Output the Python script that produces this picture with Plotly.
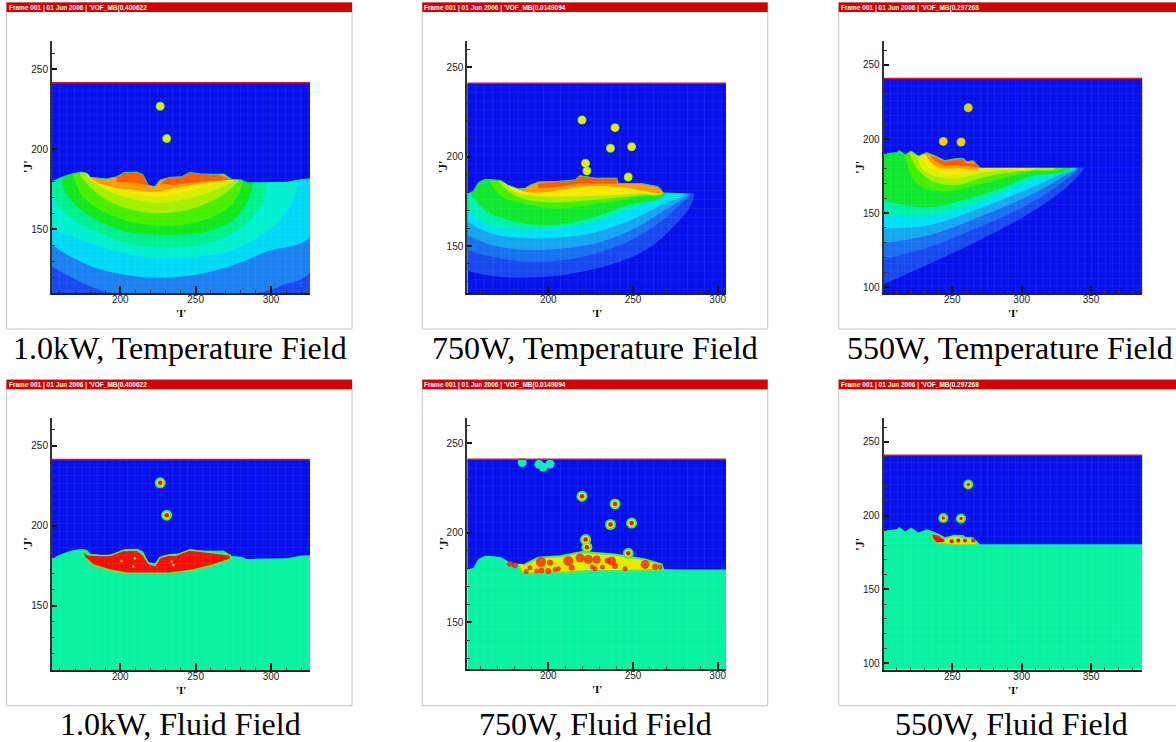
import plotly.graph_objects as go

W, H = 1176, 742
FRAME_TITLES = ["Frame 001 | 01 Jun 2006 | 'VOF_MB(0.400622", "Frame 001 | 01 Jun 2006 | 'VOF_MB(0.0149094", "Frame 001 | 01 Jun 2006 | 'VOF_MB(0.297268"]
CAPTIONS = ["1.0kW, Temperature Field", "750W, Temperature Field", "550W, Temperature Field",
            "1.0kW, Fluid Field", "750W, Fluid Field", "550W, Fluid Field"]

# ---------- interface profiles (I, J) ----------
S1_X = [154.7,162.2,167.7,174.3,178,180.3,191,197.6,203,211.3,215.3,218.6,223,226.3,233,240.7,246.2,253,264,268.8,274,280.5,283.8,297,310.4,320.4,326]
S1_Y = [179.6,182.7,184.4,185.6,184.8,182.3,181.3,182.7,185.4,185.6,183.8,177.3,176.5,180.6,182.3,182.7,185.4,184.4,184.2,184.4,181,180.6,179.2,179.4,179.6,181.3,181.5]
S2_X = [152.2,155.7,158.7,162.7,167.6,172,176.4,182.3,186.2,189.2,194,205.9,215.7,218.7,227.6,240.4,241.3,255,264.9,268,280.7,305]
S2_Y = [179.5,180.4,185.4,187.3,187,186.6,184,182,182.3,184,185.8,186.2,187,189.4,188,188,185,185,183.2,179.9,179.5,179.5]
S3_X = [200.5,209.9,211.8,215.9,220.2,225.5,231.5,236.3,244.7,253.1,257.9,260.3,265.1,270,306,387]
S3_Y = [189.9,190.8,192.3,189.2,191.9,188.5,190.8,189.2,185.4,186.9,186.9,184.7,185.4,180.6,180.6,180.6]

# ---------- temperature bands: lower edge of each contour level ----------
LEVEL_COLORS_1 = ["#1c80f2","#00d8f8","#00f0d0","#00f090","#10e820","#44f000","#a4f000","#d8f000","#ffe800","#ff9c00"]
T1_X = [[154.7,169,182,195.4,290.5,308,326],
        [154.7,169,186.5,208.6,228.5,253,275,297,326],
        [318,314.8,306,290.5,270.6,246,228.5,208.6,186.5,169,154.7],
        [297,295,286,270.6,253,228.5,208.6,186.5,169,157.7,155],
        [288,285,275,257,228.5,204,184.3,169,162,161.7],
        [281.6,275,261.7,244,228.5,208.6,191,175.4,169],
        [278.3,266,248.5,228.5,208.6,191,178.8,173.2],
        [275,257.3,239.6,228.5,213,195.4,182,176.5],
        [274,255,237.4,226.3,208.6,193,180],
        [274,253,235,224,208.6,193,180.3]]
T1_Y = [[126.5,119,113.5,110,110,115,123.3],
        [140,131.7,124.8,120.6,119.6,121.9,127.5,135.8,145.6],
        [180.6,168,155.6,144,135.8,132.3,131.7,133.7,139,145.2,151.5],
        [178.5,168,155.6,145.2,140,138.5,140,147.3,155.6,166,176.5],
        [179,168,155.6,148.3,146.3,148.3,155.6,166,176.5,182.7],
        [179.6,166,157.7,153,152,154,159.8,170,183.7],
        [179.6,170.2,163,159.8,161.9,168,177.5,184.8],
        [179.6,172.3,168,166.5,167.7,172.3,179.6,185],
        [180.6,176.5,172.3,170.2,172.3,175.4,181.7],
        [181,178.5,175.4,173.3,174.4,176.5,182.3]]
HOT1A_X = [197.6,203,211.3,217.5,218.6,208.6,197.6]
HOT1A_Y = [182.7,185.4,185.6,182.7,177.3,179,179.6]
HOT1B_X = [226.3,233,246.2,264,274,252.9,235]
HOT1B_Y = [178.5,182.3,185.4,184,181,179.6,177.5]

LEVEL_COLORS_2 = ["#1a48f0","#1a70f0","#18a4f0","#00e0f8","#00f0b0","#10e830","#44f000","#a4f000","#ffe800","#ff9c00"]
T2_X = [[152.2,166.5,182.3,203.9,219.7,239.4,259.1,274.8,283.7,286.2],
        [152.2,166.5,188.2,209.8,231.5,251.2,268.9,278.7,284.3],
        [152.2,166.5,188.2,209.8,231.5,251.2,268.9,278.7,282.7],
        [152.2,166.5,188.2,209.8,231.5,251.2,268.9,280.7],
        [152.2,160.6,180.3,203.9,227.6,249.2,267.9,277.8],
        [154.3,162.6,180.3,203.9,227.6,247.2,268.9],
        [165.6,172.4,184.3,203.9,231.5,255.1,267.9],
        [170.5,178.3,188.2,203.9,231.5,255.1,267.9],
        [172.8,180.3,189.2,203.9,231.5,255.1,267.9],
        [182.7,189.2,205.9,219.7,241.3,255.1,267.9]]
T2_Y = [[136.2,133.2,132.3,133.2,135.6,140.3,148.7,161.8,172,179.1],
        [147.8,144,141.2,142.2,146.8,154.3,165.5,173.9,179.1],
        [156.2,150.6,147.8,148.7,152.4,159.9,170.1,175.7,179.1],
        [163.6,157,154.3,154.9,158.6,165.5,173.9,179.1],
        [171,163.6,159,159.9,163.6,171,177.6,179.1],
        [179.1,170.1,163.6,161.8,166.4,172.9,178.5],
        [186,177.6,173.9,171,173.9,177.6,179.5],
        [186,179.5,175.7,174.4,176.1,178.5,179.9],
        [186,180.4,178.5,177.6,178.2,179.5,179.9],
        [181.3,179.9,181,183.2,183.2,181,179.9]]
HOT2_X = [194,205.9,218.7,240.4,240.4,219.7,205.9,194]
HOT2_Y = [185,186,188.8,187.9,184.7,185.1,183.2,182.3]

LEVEL_COLORS_3 = ["#1a48f0","#1a70f0","#18a8f0","#00e0f8","#00f0b0","#10e830","#44f000","#a4f000","#d8f000","#ffe800","#ff9c00"]
T3_X = [[200.5,233.9,270,306,330,342,345],
        [200.5,233.9,270,306,330,340.9],
        [200.5,233.9,270,306,330,340.1],
        [200.5,233.9,270,306,330,339.2],
        [200.5,233.9,270,306,337.3],
        [200.5,209.9,233.9,257.9,282,306,336.1],
        [215.9,224.3,243.5,262.7,282,306,330],
        [219.5,225.5,236.3,253.1,270,286.8,306,325.2],
        [223.8,229.1,238.7,253.1,270,286.8,310.8],
        [227.2,232.7,241.1,253.1,270,284.4,303.6],
        [230.3,235.1,242.3,253.1,270]]
T3_Y = [[102,116,131.8,150,165.5,176.5,180.6],
        [118.7,127.3,140.8,156.5,171.2,180.6],
        [129.7,135.1,147.5,162,174.5,180.6],
        [139.6,141.9,153.2,166.7,176.8,180.6],
        [148.6,148,157.7,172.3,180.6],
        [158.8,156.5,153.8,158.8,165.5,174.5,180.6],
        [188,170,164.4,167.8,172.3,177.9,180.6],
        [189.2,179,171.2,168.9,173.4,176.8,179,180.6],
        [189.2,179,174.5,173.4,176.8,179,180.6],
        [189.2,181.3,176.8,175.7,179,180.2,180.6],
        [190.3,183.6,180.2,180.2,180.6]]
HOT3_X = [233.9,244.7,253.1,257.9,260.3,267.5,270,253.1,243.5,237.5]
HOT3_Y = [189.2,184.7,186.3,186.3,183.6,183.6,180.6,182.4,182,185.4]

# ---------- melt pools ----------
POOL1_X = [175.4,178,186.5,193,202,210.8,215.3,218.6,223,226.3,233,236.3,246.2,255,264,272.8,273.5,261.7,248.5,233,204.2,193,182,177.2]
POOL1_Y = [184.2,182,181.3,181.3,184.4,184.8,181.7,176.5,175,180,181.7,181.3,184.8,183.8,182.7,181.7,179.2,175.4,172.3,170.2,170.2,172.3,175.4,179.6]
POOL1_SPECK_X = [200.9,208.6,209.7,234,235.2]
POOL1_SPECK_Y = [177.9,174.4,179.6,177.5,175.4]
POOL2_X = [174.4,182.3,184.3,189.2,203.9,225.6,247.2,267.9,266.9,257.1,239.4,219.7,206.9,194.1,186.2]
POOL2_Y = [183.7,181.9,177.8,177.4,177.8,178.7,178.7,179.6,182.4,185.2,188,189.4,187,186.1,182.4]
POOL2_RED_X = [177.4,180.3,189.2,195.7,201,193.1,200,205.9,211.8,218.7,223.6,228.5,213.8,227.6,237.4,239.4,245.3,257.1,263,265.9,187,196,204,226,232,235]
POOL2_RED_Y = [182.8,181.9,180.6,183.7,183.3,178.7,178.7,180,184.3,186.1,185.2,185.2,180.6,180,184.3,181.5,180,182.4,181.1,180.9,178.5,179,179.5,181,181,184.5]
POOL2_RED_S = [6,6,5,10,6,5,6,5,10,9,9,8,6,5,9,6,5,9,6,5,5,6,5,5,5,6]
POOL3_X = [234.6,239.9,244.7,251.9,256.7,263.9,267.5,267.5,250.7,238.7,235.1]
POOL3_Y = [187.6,187.2,184.5,186.7,185.4,184.9,181.5,180,180,181.5,184.9]
POOL3_RED_X = [235.4,239.9,244.7,243.5,238.7,235.9]
POOL3_RED_Y = [187.2,186.5,183.3,182,182,184.9]
POOL3_SPOT_X = [249.5,254.3,259.1,265.1]
POOL3_SPOT_Y = [182.6,183.1,183.1,183.1]

# ---------- droplets ----------
DROP1_X, DROP1_Y = [226.5,230.8], [226.7,206.5]
DROP2_X, DROP2_Y = [219.9,239.4,236.7,249.2,247.2,222,222.8], [220.5,216.2,204.7,205.5,188.6,196.3,192]
DROP3_X, DROP3_Y = [261.5,243.5,256.3], [221.1,198.4,198]
BUBBLE_X, BUBBLE_Y = [184.6,194.5,197,201], [239.3,238.3,236.7,238.5]

X_TICKS = [[200,250,300],[200,250,300],[250,300,350],[200,250,300],[200,250,300],[250,300,350]]
Y_TICKS = [[150,200,250],[150,200,250],[100,150,200,250],[150,200,250],[150,200,250],[100,150,200,250]]
X_RANGES = [[154.7,325.9],[152.2,304.9],[200.5,387],[154.7,325.9],[152.2,304.9],[200.5,387]]
Y_RANGES = [[110,267.5],[123.7,264.7],[96,266.2],[109.8,267],[124,264],[95.5,266]]
TOP_J = [241.4,241,240.8,241.3,241.1,241]

# pixel layout of every panel: frame(l,t,r,b), plot(l,t,r,b)
FRAMES = [(6.5,2.5,352,329),(422.3,2.5,767.7,329),(838.7,2.5,1178,329),
          (6.5,379.7,352,705.7),(422.3,379.7,767.7,705.7),(838.7,379.7,1178,705.7)]
PLOTS = [(52,41,310,293),(467.3,41,726,293),(883.7,41,1142.3,293),
         (52,418.3,310,670),(467.3,418.3,726,669),(883.7,418.3,1142.3,669.7)]
CAP_X = [180,595,1010,180,595,1011]
CAP_Y = [348,348,348,724,724,724]

BLUE, TEAL = "#0610ea", "#08f2a2"
fig = go.Figure()

def poly(i, xs, ys, color, line=None, lw=0, shape="linear"):
    fig.add_trace(go.Scatter(x=xs, y=ys, mode="lines", fill="toself", fillcolor=color,
                             line=dict(color=line or color, width=lw if line else 0, shape=shape),
                             xaxis=f"x{i+1}", yaxis=f"y{i+1}", hoverinfo="skip", showlegend=False))

def band(i, xs, ys, color):
    poly(i, xs + [xs[-1], xs[0]], ys + [200, 200], color, shape="spline")

def gas(i, sx, sy):
    rx = X_RANGES[i]
    poly(i, [rx[0]] + sx + [rx[1], rx[0]], [sy[0]] + sy + [TOP_J[i], TOP_J[i]], BLUE)

def base(i, color):
    rx, ry = X_RANGES[i], Y_RANGES[i]
    poly(i, [rx[0], rx[1], rx[1], rx[0]], [ry[0], ry[0], TOP_J[i], TOP_J[i]], color)

def mesh(i):
    rx, ry = X_RANGES[i], Y_RANGES[i]
    xs, ys = [], []
    step = 5.0
    v = rx[0]
    while v < rx[1]:
        xs += [v, v, None]; ys += [ry[0], TOP_J[i], None]; v += step
    v = TOP_J[i]
    while v > ry[0]:
        xs += [rx[0], rx[1], None]; ys += [v, v, None]; v -= step
    fig.add_trace(go.Scatter(x=xs, y=ys, mode="lines", line=dict(color="rgba(255,255,255,0.06)", width=1),
                             xaxis=f"x{i+1}", yaxis=f"y{i+1}", hoverinfo="skip", showlegend=False))

def top_line(i):
    rx = X_RANGES[i]
    fig.add_trace(go.Scatter(x=rx, y=[TOP_J[i], TOP_J[i]], mode="lines", line=dict(color="#e01020", width=1.5),
                             xaxis=f"x{i+1}", yaxis=f"y{i+1}", hoverinfo="skip", showlegend=False))

def dots(i, xs, ys, layers):
    for size, color in layers:
        fig.add_trace(go.Scatter(x=xs, y=ys, mode="markers", marker=dict(size=size, color=color, line=dict(width=0)),
                                 xaxis=f"x{i+1}", yaxis=f"y{i+1}", hoverinfo="skip", showlegend=False))

def surface_edge(i, xs, ys, stop):
    keep = [k for k, v in enumerate(xs) if v <= stop]
    fig.add_trace(go.Scatter(x=[xs[k] for k in keep], y=[ys[k] for k in keep], mode="lines", line=dict(color="#20d870", width=1),
                             xaxis=f"x{i+1}", yaxis=f"y{i+1}", hoverinfo="skip", showlegend=False))

HOT = "#ff5a00"
DROP_T = [(9, "#30e070"), (7.5, "#f2e800")]
DROP_F = [(11, "#20e8a0"), (9, "#50ee40"), (7, "#f0e800"), (4.5, "#f01010")]
DROP_F3 = [(10, "#20e8a0"), (8, "#50ee40"), (6, "#f0e800"), (3.5, "#f01010")]

# Panel 0: 1.0 kW temperature
base(0, "#1a48f0")
for xs, ys, c in zip(T1_X, T1_Y, LEVEL_COLORS_1):
    band(0, xs, ys, c)
poly(0, HOT1A_X, HOT1A_Y, HOT); poly(0, HOT1B_X, HOT1B_Y, HOT)
gas(0, S1_X, S1_Y); surface_edge(0, S1_X, S1_Y, 284)
mesh(0); dots(0, DROP1_X, DROP1_Y, DROP_T); top_line(0)

# Panel 1: 750 W temperature
base(1, BLUE)
for xs, ys, c in zip(T2_X, T2_Y, LEVEL_COLORS_2):
    band(1, xs, ys, c)
poly(1, HOT2_X, HOT2_Y, HOT)
gas(1, S2_X, S2_Y); surface_edge(1, S2_X, S2_Y, 268)
mesh(1); dots(1, DROP2_X, DROP2_Y, DROP_T); top_line(1)

# Panel 2: 550 W temperature
base(2, BLUE)
for xs, ys, c in zip(T3_X, T3_Y, LEVEL_COLORS_3):
    band(2, xs, ys, c)
poly(2, HOT3_X, HOT3_Y, HOT)
gas(2, S3_X, S3_Y); surface_edge(2, S3_X, S3_Y, 270)
mesh(2); dots(2, DROP3_X, DROP3_Y, [(9, "#50e060"), (7.5, "#ffc800")]); top_line(2)

# Panel 3: 1.0 kW fluid
base(3, TEAL); gas(3, S1_X, S1_Y)
poly(3, POOL1_X, POOL1_Y, "#f41008", "#70e820", 1.5)
dots(3, POOL1_SPECK_X, POOL1_SPECK_Y, [(2.5, "#f0e800")])
mesh(3); dots(3, DROP1_X, DROP1_Y, DROP_F); top_line(3)

# Panel 4: 750 W fluid
base(4, TEAL); gas(4, S2_X, S2_Y)
poly(4, POOL2_X, POOL2_Y, "#e8e800", "#50ec40", 2)
mesh(4); dots(4, BUBBLE_X, BUBBLE_Y, [(9, "#18e8c0")])
fig.add_trace(go.Scatter(x=POOL2_RED_X, y=POOL2_RED_Y, mode="markers", xaxis="x5", yaxis="y5", hoverinfo="skip", showlegend=False,
                         marker=dict(size=POOL2_RED_S, color="#f01010", line=dict(width=0))))
dots(4, DROP2_X, DROP2_Y, DROP_F); top_line(4)

# Panel 5: 550 W fluid
base(5, TEAL); gas(5, S3_X, S3_Y)
poly(5, POOL3_X, POOL3_Y, "#c8ec20", "#50ec40", 1.5)
poly(5, POOL3_RED_X, POOL3_RED_Y, "#f41008")
dots(5, POOL3_SPOT_X, POOL3_SPOT_Y, [(4, "#f01010")])
mesh(5); dots(5, DROP3_X, DROP3_Y, DROP_F3); top_line(5)

layout = dict(width=W, height=H, margin=dict(l=0, r=0, t=0, b=0), paper_bgcolor="white", plot_bgcolor="white",
              showlegend=False, shapes=[], annotations=[])
TICK_FONT = dict(family="Liberation Sans", size=10, color="#222222")
for i in range(6):
    l, t, r, b = PLOTS[i]
    k = i + 1
    layout[f"xaxis{k}"] = dict(domain=[l / W, r / W], range=X_RANGES[i], anchor=f"y{k}", tickvals=X_TICKS[i],
                               ticks="inside", ticklen=7, tickwidth=1.5, tickcolor="#111111", showgrid=False, zeroline=False,
                               showline=True, linecolor="#222222", linewidth=2, tickfont=TICK_FONT, ticklabelstandoff=-4,
                               minor=dict(dtick=10, ticks="inside", ticklen=3, tickcolor="#333333", tickwidth=1))
    layout[f"yaxis{k}"] = dict(domain=[1 - b / H, 1 - t / H], range=Y_RANGES[i], anchor=f"x{k}", tickvals=Y_TICKS[i],
                               ticks="inside", ticklen=5, tickwidth=1.5, tickcolor="#111111", showgrid=False, zeroline=False,
                               showline=True, linecolor="#333333", linewidth=2, tickfont=TICK_FONT,
                               minor=dict(dtick=10, ticks="inside", ticklen=3, tickcolor="#333333", tickwidth=1))
    fl, ft, fr, fb = FRAMES[i]
    def px(x0, y0, x1, y1, **kw):
        layout["shapes"].append(dict(type="rect", xref="paper", yref="paper", x0=x0 / W, x1=x1 / W,
                                     y0=1 - y0 / H, y1=1 - y1 / H, **kw))
    px(fl, ft, fr, fb, line=dict(color="#c4c4c4", width=1), layer="below")
    px(fl, ft, fr, ft + 9.5, fillcolor="#d40000", line=dict(width=0), layer="below")
    def note(text, x, y, size, family, color="black", bold=False, angle=0):
        layout["annotations"].append(dict(text=f"<b>{text}</b>" if bold else text, x=x / W, y=1 - y / H,
                                          xref="paper", yref="paper", showarrow=False, xanchor="center", yanchor="middle",
                                          textangle=angle, font=dict(family=family, size=size, color=color)))
    layout["annotations"].append(dict(text="<b>" + FRAME_TITLES[i % 3] + "</b>", x=fl / W, y=1 - (ft + 5) / H,
                                      xref="paper", yref="paper", showarrow=False, xanchor="left", yanchor="middle",
                                      font=dict(family="Liberation Sans", size=6.5, color="white")))
    note("'I'", (l + r) / 2, b + 20, 11, "Liberation Serif", bold=True)
    note("'J'", l - 24, (t + b) / 2, 12, "Liberation Serif", bold=True, angle=-90)
    note(CAPTIONS[i], CAP_X[i], CAP_Y[i], 32, "Liberation Serif")

fig.update_layout(**layout)
fig.write_html("out.html", post_script="document.body.style.margin='0';document.body.style.overflow='hidden';",
               config={"displayModeBar": False})
